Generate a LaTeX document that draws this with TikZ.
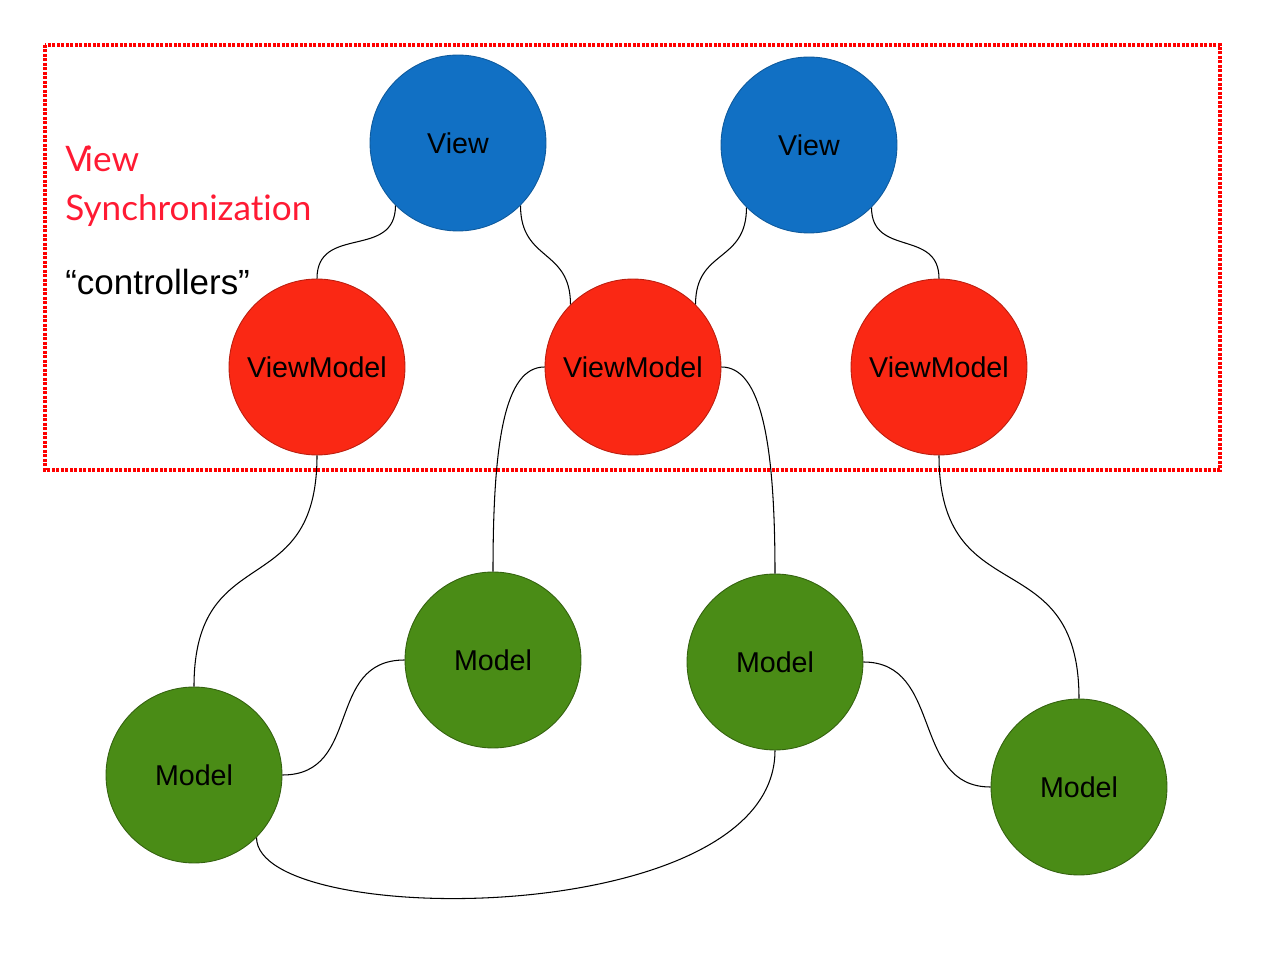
\documentclass[tikz,border=0pt]{standalone}
\usepackage{fontspec}
\setmainfont{Liberation Sans}
\newfontfamily\syncfont[Ligatures={NoCommon,NoRare}]{Lato}
\usepackage{xcolor}
\definecolor{ViewBlue}{HTML}{1170C4}
\definecolor{ViewModelRed}{HTML}{FA2814}
\definecolor{ModelGreen}{HTML}{4A8C16}
\definecolor{SyncRed}{HTML}{FF1A33}
\definecolor{FrameRed}{HTML}{FF0000}
\usetikzlibrary{calc}

\begin{document}
\begin{tikzpicture}[x=0.02cm,y=0.02cm,
	bubble/.style={circle,minimum size=3.52cm,inner sep=0pt,line width=0.5pt,font=\fontsize{16.3}{18}\selectfont},
	view/.style={bubble,fill=ViewBlue,draw=ViewBlue!80!black},
	viewmodel/.style={bubble,fill=ViewModelRed,draw=ViewModelRed!75!black},
	model/.style={bubble,fill=ModelGreen,draw=ModelGreen!70!black},
	link/.style={line width=0.6pt},
	caption/.style={anchor=base west,inner sep=0pt}]
	\useasboundingbox (0,0) rectangle (1265,978);
	
	% dotted frame round the synchronization layer
	\draw[FrameRed,line width=0.08cm,dash pattern=on 0.06cm off 0.03cm] (45,933) rectangle (1220,508);
	\node[caption,text=SyncRed,font=\syncfont\fontsize{20}{24}\selectfont] (synca) at (65,806) {V\kern-2.5pt iew};
	\node[caption,text=SyncRed,font=\syncfont\fontsize{20}{24}\selectfont] (syncb) at (65,757) {Synchronization};
	\node[caption,font=\fontsize{19.9}{24}\selectfont] (ctrl) at (65,683) {“controllers”};
	
	% views
	\node[view] (view1) at (458,835) {View};
	\node[view] (view2) at (809,833) {View};
	
	% view models
	\node[viewmodel] (vm1) at (317,611) {ViewModel};
	\node[viewmodel] (vm2) at (633,611) {ViewModel};
	\node[viewmodel] (vm3) at (939,611) {ViewModel};
	
	% models
	\node[model] (m1) at (493,318) {Model};
	\node[model] (m2) at (775,316) {Model};
	\node[model] (ml) at (194,203) {Model};
	\node[model] (mr) at (1079,191) {Model};
	
	\draw[link] (view1.225) to[out=-90,in=90,looseness=1.3] (vm1.90);
	\draw[link] (view1.315) to[out=-90,in=90,looseness=1.3] (vm2.135);
	\draw[link] (view2.225) to[out=-90,in=90,looseness=1.3] (vm2.45);
	\draw[link] (view2.315) to[out=-90,in=90,looseness=1.3] (vm3.90);
	
	\draw[link] (vm1.270) to[out=-90,in=90,looseness=1.45] (ml.90);
	\draw[link] (vm2.180) .. controls +(-40,0) and +(0,130) .. (m1.90);
	\draw[link] (vm2.0) .. controls +(40,0) and +(0,130) .. (m2.90);
	\draw[link] (vm3.270) to[out=-90,in=90,looseness=1.45] (mr.90);
	
	\draw[link] (m1.180) .. controls +(-80,0) and +(80,0) .. (ml.0);
	\draw[link] (m2.0) .. controls +(80,0) and +(-80,0) .. (mr.180);
	\draw[link] (ml.315) .. controls +(0,-92) and +(0,-180) .. (m2.270);
\end{tikzpicture}
\end{document}
